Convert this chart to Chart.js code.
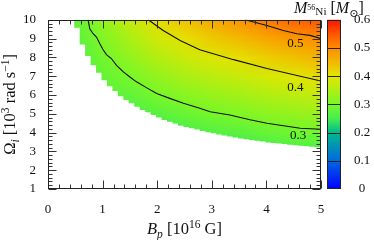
<!DOCTYPE html>
<html>
<head>
<meta charset="utf-8">
<script src="https://cdn.jsdelivr.net/npm/chart.js@4"></script>
<style>
  html, body { margin: 0; padding: 0; background: #fff; }
  canvas { display: block; }
</style>
</head>
<body>
<canvas id="myChart" width="374" height="240"></canvas>
<script>
// M(56Ni) at a few grid nodes
const nodeB = [0.5, 1.0, 1.5, 2.0, 2.5, 3.0, 3.5, 4.0, 4.5, 5.0];
const nodeOmega = [10, 9, 8, 7, 6, 5, 4, 3];
const massNi = [
    [0.279, 0.324, 0.370, 0.409, 0.440, 0.468, 0.490, 0.515, 0.535, 0.548],
    [0.270, 0.309, 0.347, 0.381, 0.406, 0.430, 0.449, 0.469, 0.486, 0.500],
    [0.262, 0.295, 0.324, 0.354, 0.376, 0.393, 0.408, 0.426, 0.441, 0.456],
    [0.255, 0.282, 0.301, 0.326, 0.346, 0.361, 0.373, 0.386, 0.397, 0.411],
    [0.248, 0.270, 0.278, 0.298, 0.315, 0.329, 0.339, 0.352, 0.361, 0.371],
    [0.242, 0.258, 0.256, 0.270, 0.285, 0.297, 0.306, 0.317, 0.326, 0.332],
    [0.236, 0.247, 0.234, 0.242, 0.254, 0.265, 0.271, 0.283, 0.290, 0.293],
    [0.230, 0.236, 0.212, 0.214, 0.224, 0.233, 0.237, 0.248, 0.254, 0.254]
];

// lower edge of the computed region: left edge of each B column and its lowest Omega
const edgeB = [0.48, 0.58, 0.68, 0.78, 0.88, 0.98, 1.08, 1.18, 1.28, 1.38,
    1.48, 1.58, 1.68, 1.78, 1.88, 1.98, 2.08, 2.18, 2.28, 2.38,
    2.48, 2.58, 2.68, 2.78, 2.88, 2.98, 3.08, 3.18, 3.28, 3.38,
    3.48, 3.58, 3.68, 3.78, 3.88, 3.98, 4.08, 4.18, 4.28, 4.38,
    4.48, 4.58, 4.68, 4.78, 4.88];
const edgeOmega = [9.58, 8.68, 8.07, 7.58, 7.19, 6.79, 6.47, 6.21, 5.94, 5.73,
    5.56, 5.38, 5.20, 5.08, 4.94, 4.80, 4.67, 4.58, 4.48, 4.37,
    4.30, 4.23, 4.16, 4.09, 4.02, 3.96, 3.90, 3.84, 3.79, 3.74,
    3.69, 3.65, 3.60, 3.56, 3.52, 3.48, 3.45, 3.42, 3.39, 3.36,
    3.33, 3.30, 3.27, 3.25, 3.22];

// contour lines
const c03B = [0.734, 0.765, 0.826, 0.888, 0.949, 1.01, 1.07, 1.16, 1.255, 1.38, 1.50, 1.62, 1.81, 1.99, 2.23, 2.48, 2.78, 2.97, 3.33, 3.70, 4.01, 4.62, 5.0];
const c03W = [10, 9.52, 9.26, 9.08, 8.73, 8.41, 8.15, 7.94, 7.58, 7.23, 6.96, 6.70, 6.38, 6.08, 5.82, 5.56, 5.29, 5.11, 4.94, 4.68, 4.50, 4.23, 4.18];
const c04B = [1.835, 2.11, 2.42, 2.78, 3.40, 4.01, 4.62, 5.0];
const c04W = [10, 9.43, 8.90, 8.41, 7.88, 7.41, 7.00, 6.74];
const c05B = [3.61, 4.01, 4.31, 4.56, 4.80, 5.0];
const c05W = [10, 9.70, 9.43, 9.26, 9.17, 9.00];

const contourText = ['0.3', '0.4', '0.5'];
const contourTextB = [4.58, 4.53, 4.53];
const contourTextW = [3.84, 6.40, 8.75];

// colour bar
const cbTicks = [0, 0.1, 0.2, 0.3, 0.4, 0.5, 0.6];
const cbLines = [0.1, 0.2, 0.3, 0.4, 0.5];
const paletteAt = [0, 0.1, 0.2, 0.25, 0.3, 0.4, 0.5, 0.55, 0.6];
const paletteRGB = [
    [0, 0, 255], [0, 105, 225], [0, 185, 140], [70, 238, 80],
    [120, 248, 40], [228, 230, 0], [255, 140, 0], [255, 85, 0], [255, 20, 0]
];

const serif = '"Liberation Serif", "DejaVu Serif", serif';

function colorOf(v) {
    if (v <= paletteAt[0]) return paletteRGB[0];
    for (let i = 1; i < paletteAt.length; i++) {
        if (v <= paletteAt[i]) {
            const f = (v - paletteAt[i - 1]) / (paletteAt[i] - paletteAt[i - 1]);
            return paletteRGB[i].map((c, k) => Math.round(paletteRGB[i - 1][k] + f * (c - paletteRGB[i - 1][k])));
        }
    }
    return paletteRGB[paletteRGB.length - 1];
}

function pts(bs, ws) {
    return bs.map((b, i) => ({ x: b, y: ws[i] }));
}

// draws text pieces (italic / sub / sup) in a row
function drawRich(ctx, parts, x, y, size, align) {
    let w = 0;
    const items = parts.map(p => {
        const s = size * (p.s || 1);
        const font = (p.it ? 'italic ' : '') + s + 'px ' + serif;
        ctx.font = font;
        const width = ctx.measureText(p.t).width;
        w += width;
        return { t: p.t, font: font, width: width, dy: (p.dy || 0) * size };
    });
    let cx = align === 'center' ? x - w / 2 : (align === 'right' ? x - w : x);
    items.forEach(it => {
        ctx.font = it.font;
        ctx.fillText(it.t, cx, y + it.dy);
        cx += it.width;
    });
}

const heatPlugin = {
    id: 'heat',
    beforeDatasetsDraw(chart) {
        const { ctx, chartArea: a, scales: { x, y } } = chart;
        const nx = nodeB.length, ny = nodeOmega.length;
        // small image, one pixel per node, edges repeated
        const off = document.createElement('canvas');
        off.width = nx + 2;
        off.height = ny + 2;
        const octx = off.getContext('2d');
        const img = octx.createImageData(nx + 2, ny + 2);
        for (let j = 0; j < ny + 2; j++) {
            for (let i = 0; i < nx + 2; i++) {
                const jj = Math.min(Math.max(j - 1, 0), ny - 1);
                const ii = Math.min(Math.max(i - 1, 0), nx - 1);
                const c = colorOf(massNi[jj][ii]);
                const k = 4 * (j * (nx + 2) + i);
                img.data[k] = c[0];
                img.data[k + 1] = c[1];
                img.data[k + 2] = c[2];
                img.data[k + 3] = 255;
            }
        }
        octx.putImageData(img, 0, 0);

        ctx.save();
        ctx.beginPath();
        ctx.rect(a.left, a.top, a.right - a.left, a.bottom - a.top);
        ctx.clip();
        ctx.beginPath();
        ctx.moveTo(x.getPixelForValue(edgeB[0]), y.getPixelForValue(10));
        edgeB.forEach((b, i) => {
            const next = i + 1 < edgeB.length ? edgeB[i + 1] : 5.2;
            const py = y.getPixelForValue(edgeOmega[i]);
            ctx.lineTo(x.getPixelForValue(b), py);
            ctx.lineTo(x.getPixelForValue(next), py);
        });
        ctx.lineTo(x.getPixelForValue(5.2), y.getPixelForValue(10));
        ctx.closePath();
        ctx.clip();

        const dB = nodeB[1] - nodeB[0];
        const dW = nodeOmega[0] - nodeOmega[1];
        const x0 = x.getPixelForValue(nodeB[0] - 1.5 * dB);
        const x1 = x.getPixelForValue(nodeB[nx - 1] + 1.5 * dB);
        const y0 = y.getPixelForValue(nodeOmega[0] + 1.5 * dW);
        const y1 = y.getPixelForValue(nodeOmega[ny - 1] - 1.5 * dW);
        ctx.imageSmoothingEnabled = true;
        ctx.drawImage(off, x0, y0, x1 - x0, y1 - y0);
        ctx.restore();
    }
};

const framePlugin = {
    id: 'frame',
    afterDatasetsDraw(chart) {
        const { ctx, chartArea: a, scales: { x, y, cb } } = chart;
        const L = Math.round(a.left) + 0.5, R = Math.round(a.right) - 0.5;
        const T = Math.round(a.top) + 0.5, B = Math.round(a.bottom) - 0.5;

        // contour labels
        ctx.save();
        ctx.fillStyle = '#111';
        ctx.font = '13px ' + serif;
        ctx.textAlign = 'center';
        ctx.textBaseline = 'middle';
        contourText.forEach((t, i) => {
            ctx.fillText(t, x.getPixelForValue(contourTextB[i]), y.getPixelForValue(contourTextW[i]));
        });

        // inward ticks on all four sides
        ctx.strokeStyle = '#333';
        ctx.lineWidth = 1;
        ctx.beginPath();
        for (let k = 0; k <= 25; k++) {
            const px = Math.round(x.getPixelForValue(k / 5)) + 0.5;
            const len = k % 5 === 0 ? 8 : 4;
            ctx.moveTo(px, B); ctx.lineTo(px, B - len);
            ctx.moveTo(px, T); ctx.lineTo(px, T + len);
        }
        for (let k = 0; k <= 45; k++) {
            const py = Math.round(y.getPixelForValue(1 + k / 5)) + 0.5;
            const len = k % 5 === 0 ? 8 : 4;
            ctx.moveTo(L, py); ctx.lineTo(L + len, py);
            ctx.moveTo(R, py); ctx.lineTo(R - len, py);
        }
        ctx.stroke();
        ctx.strokeStyle = '#222';
        ctx.strokeRect(L, T, R - L, B - T);

        // colour bar
        const cbL = 327, cbR = 341;
        const g = ctx.createLinearGradient(0, cb.getPixelForValue(0), 0, cb.getPixelForValue(0.6));
        paletteAt.forEach((v, i) => g.addColorStop(v / 0.6, 'rgb(' + paletteRGB[i].join(',') + ')'));
        ctx.fillStyle = g;
        ctx.fillRect(cbL, a.top, cbR - cbL, a.bottom - a.top);
        ctx.strokeStyle = '#222';
        ctx.beginPath();
        cbLines.forEach(v => {
            const py = Math.round(cb.getPixelForValue(v)) + 0.5;
            ctx.moveTo(cbL, py); ctx.lineTo(cbR, py);
        });
        ctx.stroke();
        ctx.strokeRect(cbL + 0.5, T, cbR - cbL - 1, B - T);

        ctx.fillStyle = '#111';
        ctx.textAlign = 'center';
        ctx.textBaseline = 'middle';
        ctx.font = '13px ' + serif;
        cbTicks.forEach(v => {
            ctx.fillText(v === 0 ? '0' : v.toFixed(1), 362, cb.getPixelForValue(v));
        });

        // titles
        ctx.textAlign = 'left';
        ctx.textBaseline = 'alphabetic';
        drawRich(ctx, [
            { t: 'B', it: true }, { t: 'p', it: true, s: 0.7, dy: 0.22 },
            { t: ' [10' }, { t: '16', s: 0.7, dy: -0.38 }, { t: ' G]' }
        ], (a.left + a.right) / 2, 234, 16.5, 'center');

        drawRich(ctx, [
            { t: 'M', it: true }, { t: '56', s: 0.5, dy: -0.2 }, { t: 'Ni', s: 0.7, dy: 0.15 },
            { t: ' [' }, { t: 'M', it: true }, { t: '\u2299', s: 0.7, dy: 0.22 }, { t: ']' }
        ], 294, 13, 16, 'left');

        ctx.translate(15, (a.top + a.bottom) / 2);
        ctx.rotate(-Math.PI / 2);
        drawRich(ctx, [
            { t: '\u03A9' }, { t: 'i', it: true, s: 0.7, dy: 0.22 },
            { t: ' [10' }, { t: '3', s: 0.7, dy: -0.38 }, { t: ' rad s' },
            { t: '\u22121', s: 0.7, dy: -0.38 }, { t: ']' }
        ], 0, 0, 16.5, 'center');
        ctx.restore();
    }
};

const lineStyle = {
    showLine: true,
    borderColor: '#111',
    borderWidth: 1.1,
    pointRadius: 0,
    fill: false,
    tension: 0
};

const config = {
    type: 'scatter',
    data: {
        datasets: [
            Object.assign({ label: '0.3', data: pts(c03B, c03W) }, lineStyle),
            Object.assign({ label: '0.4', data: pts(c04B, c04W) }, lineStyle),
            Object.assign({ label: '0.5', data: pts(c05B, c05W) }, lineStyle)
        ]
    },
    options: {
        responsive: false,
        animation: false,
        devicePixelRatio: 1,
        layout: { padding: { top: 19, left: 0, right: 53, bottom: 0 } },
        plugins: {
            legend: { display: false },
            tooltip: { enabled: false },
            title: { display: false }
        },
        scales: {
            x: {
                type: 'linear',
                min: 0,
                max: 5,
                grid: { display: false, drawTicks: false },
                border: { display: false },
                ticks: { stepSize: 1, padding: 13, color: '#111', font: { family: serif, size: 13 } },
                afterFit: s => { s.height = 51; }
            },
            y: {
                type: 'linear',
                min: 1,
                max: 10,
                grid: { display: false, drawTicks: false },
                border: { display: false },
                ticks: { stepSize: 1, autoSkip: false, padding: 12, color: '#111', font: { family: serif, size: 13 } },
                afterFit: s => { s.width = 48; }
            },
            cb: {
                type: 'linear',
                position: 'right',
                display: false,
                min: 0,
                max: 0.6
            }
        }
    },
    plugins: [heatPlugin, framePlugin]
};

window.myChart = new Chart(document.getElementById('myChart'), config);
</script>
</body>
</html>
